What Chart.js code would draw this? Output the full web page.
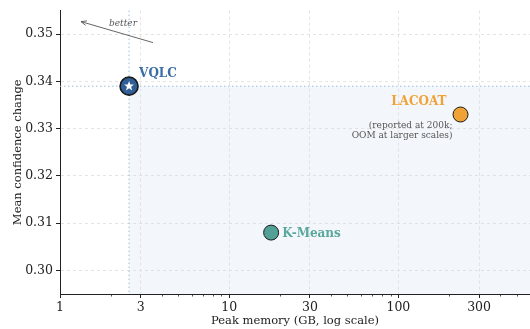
<!DOCTYPE html>
<html>
<head>
<meta charset="utf-8">
<script src="https://cdn.jsdelivr.net/npm/chart.js@4"></script>
<style>
  html, body { margin: 0; padding: 0; background: #fff; overflow: hidden; }
  #wrap { width: 530px; height: 329px; }
</style>
</head>
<body>
<div id="wrap"><canvas id="chart"></canvas></div>
<script>
  // Data
  const methods = ['VQLC', 'LACOAT', 'K-Means'];
  const peakMemory = [2.56, 233, 17.7];          // GB
  const confidence = [0.339, 0.333, 0.308];      // mean confidence change
  const xTicks = [1, 3, 10, 30, 100, 300];
  const yTicks = [0.30, 0.31, 0.32, 0.33, 0.34, 0.35];
  const lacoatNote = ['(reported at 200k;', 'OOM at larger scales)'];

  const FONT = '"DejaVu Serif", serif';
  const colors = {
    VQLC: '#2f5f96',
    LACOAT: '#f1a236',
    'K-Means': '#52a096'
  };
  const labelColors = {
    VQLC: '#3a6ca6',
    LACOAT: '#f1a236',
    'K-Means': '#5aa89d'
  };

  // plot runs off the right edge of the figure, like the original crop
  const bleedRight = {
    id: 'bleedRight',
    afterLayout(chart) {
      const x = chart.scales.x;
      const r = chart.width;
      chart.chartArea.right = r;
      chart.chartArea.width = r - chart.chartArea.left;
      x.right = r;
      x.width = r - x.left;
      x.configure();
    }
  };

  // shaded "dominated" region + dotted guides, under the points
  const regionPlugin = {
    id: 'region',
    beforeDatasetsDraw(chart) {
      const { ctx, chartArea: a, scales: { x, y } } = chart;
      const px = x.getPixelForValue(peakMemory[0]);
      const py = y.getPixelForValue(confidence[0]);
      ctx.save();
      ctx.fillStyle = 'rgba(200, 218, 236, 0.22)';
      ctx.fillRect(px, py, a.right - px, a.bottom - py);
      ctx.strokeStyle = '#9dbbdc';
      ctx.lineWidth = 1;
      ctx.setLineDash([1.5, 2.5]);
      ctx.beginPath();
      ctx.moveTo(px, a.top);
      ctx.lineTo(px, a.bottom);
      ctx.moveTo(a.left, py);
      ctx.lineTo(a.right, py);
      ctx.stroke();
      ctx.restore();
    }
  };

  // labels, star, arrow and minor ticks
  const annotatePlugin = {
    id: 'annotate',
    afterDatasetsDraw(chart) {
      const { ctx, chartArea: a, scales: { x, y } } = chart;
      ctx.save();

      // minor ticks on log axis
      ctx.strokeStyle = '#222';
      ctx.lineWidth = 0.8;
      ctx.beginPath();
      [1, 10, 100].forEach(d => {
        for (let k = 2; k <= 9; k++) {
          const v = d * k;
          if (xTicks.includes(v) || v >= x.max) continue;
          const p = Math.round(x.getPixelForValue(v)) + 0.5;
          ctx.moveTo(p, a.bottom);
          ctx.lineTo(p, a.bottom + 2.5);
        }
      });
      ctx.stroke();

      // white star inside VQLC marker
      const sx = x.getPixelForValue(peakMemory[0]);
      const sy = y.getPixelForValue(confidence[0]);
      ctx.fillStyle = '#fff';
      ctx.beginPath();
      for (let i = 0; i < 10; i++) {
        const r = i % 2 === 0 ? 5.2 : 2.2;
        const ang = -Math.PI / 2 + i * Math.PI / 5;
        const qx = sx + r * Math.cos(ang);
        const qy = sy + r * Math.sin(ang);
        if (i === 0) ctx.moveTo(qx, qy); else ctx.lineTo(qx, qy);
      }
      ctx.closePath();
      ctx.fill();

      // method labels
      ctx.font = 'bold 12px ' + FONT;
      ctx.textBaseline = 'middle';
      ctx.fillStyle = labelColors.VQLC;
      ctx.textAlign = 'left';
      ctx.fillText('VQLC', sx + 10, sy - 12);

      const lx = x.getPixelForValue(peakMemory[1]);
      const ly = y.getPixelForValue(confidence[1]);
      ctx.fillStyle = labelColors.LACOAT;
      ctx.textAlign = 'right';
      ctx.fillText('LACOAT', lx - 14, ly - 13);

      ctx.font = '9px ' + FONT;
      ctx.fillStyle = '#555';
      ctx.fillText(lacoatNote[0], lx - 8, ly + 11);
      ctx.fillText(lacoatNote[1], lx - 8, ly + 21);

      const kx = x.getPixelForValue(peakMemory[2]);
      const ky = y.getPixelForValue(confidence[2]);
      ctx.font = 'bold 12px ' + FONT;
      ctx.fillStyle = labelColors['K-Means'];
      ctx.textAlign = 'left';
      ctx.fillText('K-Means', kx + 11, ky + 1);

      // "better" arrow toward the upper-left
      const x0 = a.left + 93, y0 = a.top + 32;
      const x1 = a.left + 21, y1 = a.top + 11;
      ctx.strokeStyle = '#555';
      ctx.lineWidth = 0.9;
      ctx.beginPath();
      ctx.moveTo(x0, y0);
      ctx.lineTo(x1, y1);
      const ang = Math.atan2(y0 - y1, x0 - x1);
      ctx.moveTo(x1 + 6 * Math.cos(ang - 0.4), y1 + 6 * Math.sin(ang - 0.4));
      ctx.lineTo(x1, y1);
      ctx.lineTo(x1 + 6 * Math.cos(ang + 0.4), y1 + 6 * Math.sin(ang + 0.4));
      ctx.stroke();
      ctx.font = 'italic 9px ' + FONT;
      ctx.fillStyle = '#555';
      ctx.textAlign = 'center';
      ctx.fillText('better', a.left + 63, a.top + 13);

      ctx.restore();
    }
  };

  const datasets = methods.map((m, i) => ({
    label: m,
    data: [{ x: peakMemory[i], y: confidence[i] }],
    backgroundColor: colors[m],
    borderColor: '#1a1a1a',
    borderWidth: m === 'VQLC' ? 1.6 : 1,
    pointRadius: m === 'VQLC' ? 9 : 7.5,
    pointHoverRadius: m === 'VQLC' ? 9 : 7.5
  }));

  new Chart(document.getElementById('chart'), {
    type: 'scatter',
    data: { datasets },
    options: {
      responsive: true,
      maintainAspectRatio: false,
      animation: false,
      events: [],
      layout: { padding: { top: 10, right: 0, left: 0, bottom: 0 } },
      plugins: {
        legend: { display: false },
        tooltip: { enabled: false }
      },
      scales: {
        x: {
          type: 'logarithmic',
          min: 1,
          max: 600,
          afterBuildTicks: s => { s.ticks = xTicks.map(v => ({ value: v })); },
          afterFit: s => { s.height = 35; },
          ticks: {
            autoSkip: false,
            maxRotation: 0,
            padding: 2,
            color: '#222',
            font: { family: FONT, size: 12.5 },
            callback: v => String(v)
          },
          grid: { color: '#e4e4e4', tickColor: '#222', tickLength: 4 },
          border: { color: '#222', width: 1, dash: [3, 3] },
          title: {
            display: true,
            text: 'Peak memory (GB, log scale)',
            color: '#222',
            font: { family: FONT, size: 11.5 },
            padding: { top: 0, bottom: 1 }
          }
        },
        y: {
          min: 0.295,
          max: 0.355,
          afterBuildTicks: s => { s.ticks = yTicks.map(v => ({ value: v })); },
          afterFit: s => { s.width = 60; },
          ticks: {
            padding: 3,
            color: '#222',
            font: { family: FONT, size: 12.5 },
            callback: v => v.toFixed(2)
          },
          grid: { color: '#e4e4e4', tickColor: '#222', tickLength: 4 },
          border: { color: '#222', width: 1, dash: [3, 3] },
          title: {
            display: true,
            text: 'Mean confidence change',
            color: '#222',
            font: { family: FONT, size: 11.5 },
            padding: { top: 11, bottom: 0 }
          }
        }
      }
    },
    plugins: [bleedRight, regionPlugin, annotatePlugin]
  });
</script>
</body>
</html>
